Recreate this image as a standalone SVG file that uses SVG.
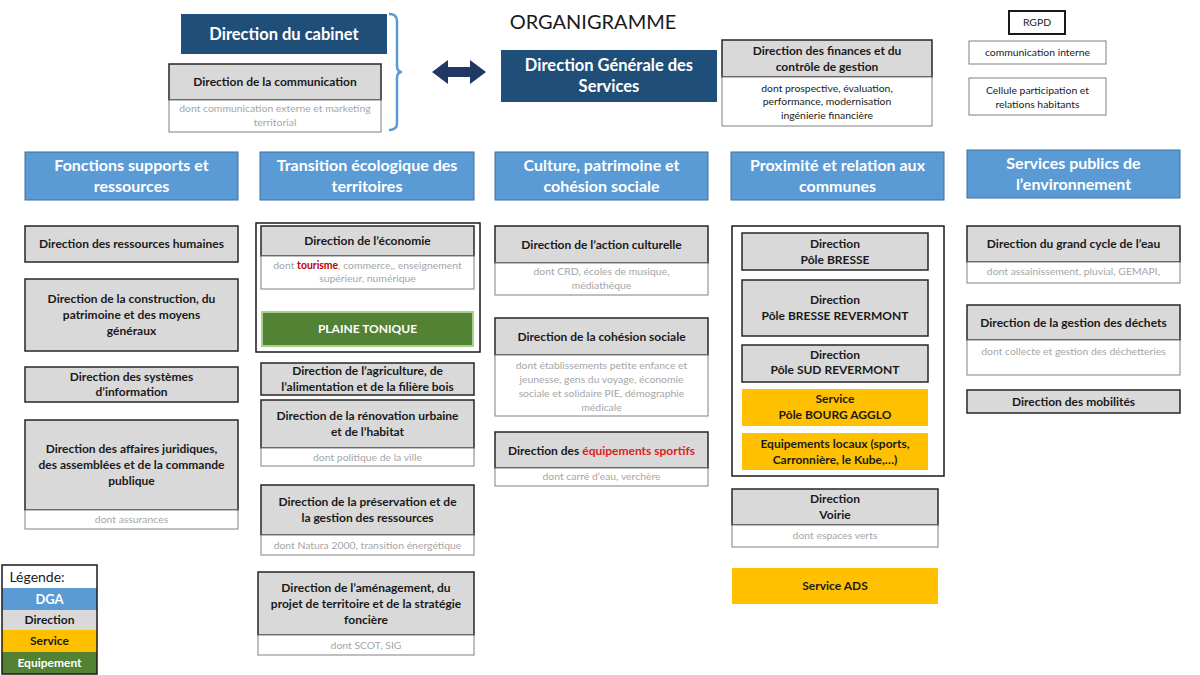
<svg xmlns="http://www.w3.org/2000/svg" width="1200" height="675" viewBox="0 0 1200 675">
<style>
text{font-family:Lato,"Open Sans","Liberation Sans",sans-serif;text-anchor:middle}
.dark{fill:#1F4E79}
.dga{fill:#5B9BD5;stroke:#41719C;stroke-width:1}
.dir{fill:#D9D9D9;stroke:#262626;stroke-width:1.5}
.sub{fill:#fff;stroke:#808080;stroke-width:1}
.svc{fill:#FFC000}
.eq{fill:#548235;stroke:#A9D18E;stroke-width:2}
.box{fill:none;stroke:#1a1a1a;stroke-width:1.5}
.h{font-size:16px;font-weight:bold;fill:#fff}
.t{font-size:12px;font-weight:bold;fill:#1a1a1a}
.s{font-size:10.4px;fill:#A6A6A6}
.n{font-size:10.4px;fill:#1a1a1a}
.red{fill:#C00000;font-weight:bold}
.red2{fill:#E02020}
</style>
<rect width="1200" height="675" fill="#fff"/>

<text x="593" y="29" style="font-size:20px;fill:#1a1a1a">ORGANIGRAMME</text>

<g id="cabinet">
<rect class="dark" x="181" y="14" width="206" height="40"/>
<text class="h" x="284" y="40" style="font-size:16.5px">Direction du cabinet</text>
</g>
<g id="communication">
<rect class="dir" x="169" y="64" width="212" height="36"/>
<text class="t" x="275" y="86">Direction de la communication</text>
<rect class="sub" x="169" y="100" width="212" height="32"/>
<text class="s" x="275" y="112">dont communication externe et marketing</text>
<text class="s" x="275" y="126">territorial</text>
</g>
<g id="dgs">
<rect class="dark" x="501" y="50" width="216" height="52"/>
<text class="h" x="609" y="71" style="font-size:16.5px">Direction Générale des</text>
<text class="h" x="609" y="92" style="font-size:16.5px">Services</text>
</g>
<g id="finances">
<rect class="dir" x="722" y="40" width="210" height="37"/>
<text class="t" x="827" y="55">Direction des finances et du</text>
<text class="t" x="827" y="71">contrôle de gestion</text>
<rect class="sub" x="722" y="77" width="210" height="49"/>
<text class="n" x="827" y="92">dont prospective, évaluation,</text>
<text class="n" x="827" y="105">performance, modernisation</text>
<text class="n" x="827" y="119">ingénierie financière</text>
</g>
<g id="rgpd">
<rect x="1009" y="11" width="56" height="23" fill="#fff" stroke="#1a1a1a" stroke-width="2"/>
<text class="n" x="1037" y="26">RGPD</text>
</g>
<g id="comint">
<rect class="sub" x="969" y="41" width="137" height="23"/>
<text class="n" x="1037.5" y="56">communication interne</text>
</g>
<g id="cellule">
<rect class="sub" x="969" y="78" width="137" height="37"/>
<text class="n" x="1037.5" y="94">Cellule participation et</text>
<text class="n" x="1037.5" y="108">relations habitants</text>
</g>

<g id="connectors">
<path d="M389 14 Q397 14 397 21 L397 66 Q397 72 402 72 Q397 72 397 78 L397 123 Q397 130 389 130" fill="none" stroke="#5B9BD5" stroke-width="2.5"/>
<polygon points="432,72 448,60 448,67 470,67 470,60 486,72 470,84 470,77 448,77 448,84" fill="#1F3864"/>
</g>

<!-- Column 1 -->
<g id="col1-header">
<rect class="dga" x="25" y="152" width="213" height="48"/>
<text class="h" x="131.5" y="171">Fonctions supports et</text>
<text class="h" x="131.5" y="192">ressources</text>
</g>
<g id="rh">
<rect class="dir" x="25" y="226" width="213" height="36"/>
<text class="t" x="131.5" y="248">Direction des ressources humaines</text>
</g>
<g id="construction">
<rect class="dir" x="25" y="279" width="213" height="72"/>
<text class="t" x="131.5" y="303">Direction de la construction, du</text>
<text class="t" x="131.5" y="319">patrimoine et des moyens</text>
<text class="t" x="131.5" y="335">généraux</text>
</g>
<g id="si">
<rect class="dir" x="25" y="367" width="213" height="35"/>
<text class="t" x="131.5" y="381">Direction des systèmes</text>
<text class="t" x="131.5" y="396">d’information</text>
</g>
<g id="juridique">
<rect class="dir" x="25" y="420" width="213" height="90"/>
<text class="t" x="131.5" y="453">Direction des affaires juridiques,</text>
<text class="t" x="131.5" y="469">des assemblées et de la commande</text>
<text class="t" x="131.5" y="485">publique</text>
<rect class="sub" x="25" y="510" width="213" height="19"/>
<text class="s" x="131.5" y="523">dont assurances</text>
</g>

<!-- Column 2 -->
<g id="col2-header">
<rect class="dga" x="260" y="152" width="214" height="48"/>
<text class="h" x="367" y="171">Transition écologique des</text>
<text class="h" x="367" y="192">territoires</text>
</g>
<g id="economie">
<rect class="box" x="256" y="223" width="224" height="129"/>
<rect class="dir" x="261" y="226" width="213" height="30"/>
<text class="t" x="367.5" y="245">Direction de l’économie</text>
<rect class="sub" x="261" y="256" width="213" height="33"/>
<text class="s" x="367.5" y="269">dont <tspan class="red">tourisme</tspan>, commerce,, enseignement</text>
<text class="s" x="367.5" y="282">supérieur, numérique</text>
</g>
<g id="plaine">
<rect class="eq" x="262" y="312" width="211" height="34"/>
<text class="t" x="367.5" y="333" style="fill:#fff">PLAINE TONIQUE</text>
</g>
<g id="agriculture">
<rect class="dir" x="261" y="363" width="213" height="32"/>
<text class="t" x="367.5" y="375">Direction de l’agriculture, de</text>
<text class="t" x="367.5" y="391">l’alimentation et de la filière bois</text>
</g>
<g id="renovation">
<rect class="dir" x="261" y="400" width="213" height="48"/>
<text class="t" x="367.5" y="420">Direction de la rénovation  urbaine</text>
<text class="t" x="367.5" y="436">et de l’habitat</text>
<rect class="sub" x="261" y="448" width="213" height="18"/>
<text class="s" x="367.5" y="461">dont politique de la ville</text>
</g>
<g id="preservation">
<rect class="dir" x="261" y="485" width="213" height="50"/>
<text class="t" x="367.5" y="506">Direction de la préservation et de</text>
<text class="t" x="367.5" y="522">la gestion des ressources</text>
<rect class="sub" x="261" y="535" width="213" height="20"/>
<text class="s" x="367.5" y="549">dont Natura 2000, transition énergétique</text>
</g>
<g id="amenagement">
<rect class="dir" x="258" y="572" width="216" height="63"/>
<text class="t" x="366" y="592">Direction de l’aménagement, du</text>
<text class="t" x="366" y="608">projet de territoire et de la stratégie</text>
<text class="t" x="366" y="624">foncière</text>
<rect class="sub" x="258" y="635" width="216" height="20"/>
<text class="s" x="366" y="649">dont SCOT, SIG</text>
</g>

<!-- Column 3 -->
<g id="col3-header">
<rect class="dga" x="495" y="152" width="213" height="48"/>
<text class="h" x="601.5" y="171">Culture, patrimoine et</text>
<text class="h" x="601.5" y="192">cohésion sociale</text>
</g>
<g id="culture">
<rect class="dir" x="495" y="226" width="213" height="37"/>
<text class="t" x="601.5" y="249">Direction de l’action culturelle</text>
<rect class="sub" x="495" y="263" width="213" height="32"/>
<text class="s" x="601.5" y="275">dont CRD, écoles de musique,</text>
<text class="s" x="601.5" y="289">médiathèque</text>
</g>
<g id="cohesion">
<rect class="dir" x="495" y="318" width="213" height="37"/>
<text class="t" x="601.5" y="341">Direction de la cohésion sociale</text>
<rect class="sub" x="495" y="355" width="213" height="61"/>
<text class="s" x="601.5" y="368.5">dont établissements petite enfance et</text>
<text class="s" x="601.5" y="382.5">jeunesse, gens du voyage, économie</text>
<text class="s" x="601.5" y="396.5">sociale et solidaire PIE, démographie</text>
<text class="s" x="601.5" y="410.5">médicale</text>
</g>
<g id="sports">
<rect class="dir" x="495" y="432" width="213" height="36"/>
<text class="t" x="601.5" y="455">Direction des <tspan class="red2">équipements sportifs</tspan></text>
<rect class="sub" x="495" y="468" width="213" height="18"/>
<text class="s" x="601.5" y="480">dont carré d’eau, verchère</text>
</g>

<!-- Column 4 -->
<g id="col4-header">
<rect class="dga" x="731" y="152" width="213" height="48"/>
<text class="h" x="837.5" y="171">Proximité et relation aux</text>
<text class="h" x="837.5" y="192">communes</text>
</g>
<g id="poles">
<rect class="box" x="732" y="226" width="212" height="250" fill="#fff"/>
</g>
<g id="bresse">
<rect class="dir" x="742" y="233" width="186" height="37"/>
<text class="t" x="835" y="248">Direction</text>
<text class="t" x="835" y="264">Pôle BRESSE</text>
</g>
<g id="bresse-revermont">
<rect class="dir" x="742" y="280" width="186" height="56"/>
<text class="t" x="835" y="304">Direction</text>
<text class="t" x="835" y="320">Pôle BRESSE REVERMONT</text>
</g>
<g id="sud-revermont">
<rect class="dir" x="742" y="345" width="186" height="37"/>
<text class="t" x="835" y="359">Direction</text>
<text class="t" x="835" y="374">Pôle SUD REVERMONT</text>
</g>
<g id="bourg">
<rect class="svc" x="742" y="389" width="186" height="37"/>
<text class="t" x="835" y="403">Service</text>
<text class="t" x="835" y="419">Pôle BOURG AGGLO</text>
</g>
<g id="equip-locaux">
<rect class="svc" x="742" y="433" width="186" height="37"/>
<text class="t" x="835" y="448">Equipements locaux (sports,</text>
<text class="t" x="835" y="464">Carronnière, le Kube,…)</text>
</g>
<g id="voirie">
<rect class="dir" x="732" y="489" width="206" height="36"/>
<text class="t" x="835" y="503">Direction</text>
<text class="t" x="835" y="519">Voirie</text>
<rect class="sub" x="732" y="525" width="206" height="22"/>
<text class="s" x="835" y="539">dont espaces verts</text>
</g>
<g id="ads">
<rect class="svc" x="732" y="568" width="206" height="36"/>
<text class="t" x="835" y="590">Service ADS</text>
</g>

<!-- Column 5 -->
<g id="col5-header">
<rect class="dga" x="967" y="150" width="213" height="48"/>
<text class="h" x="1073.5" y="169">Services publics de</text>
<text class="h" x="1073.5" y="190">l’environnement</text>
</g>
<g id="eau">
<rect class="dir" x="967" y="226" width="213" height="36"/>
<text class="t" x="1073.5" y="248">Direction du grand cycle de l’eau</text>
<rect class="sub" x="967" y="262" width="213" height="21"/>
<text class="s" x="1073.5" y="275">dont assainissement, pluvial, GEMAPI,</text>
</g>
<g id="dechets">
<rect class="dir" x="967" y="305" width="213" height="35"/>
<text class="t" x="1073.5" y="327">Direction de la gestion des déchets</text>
<rect class="sub" x="967" y="340" width="213" height="35"/>
<text class="s" x="1073.5" y="355">dont collecte et gestion des déchetteries</text>
</g>
<g id="mobilites">
<rect class="dir" x="967" y="390" width="213" height="23"/>
<text class="t" x="1073.5" y="406">Direction des mobilités</text>
</g>

<!-- Legend -->
<g id="legend">
<rect x="2" y="565" width="95" height="109" fill="#fff"/>
<rect x="2" y="588" width="95" height="22" fill="#5B9BD5"/>
<rect x="2" y="610" width="95" height="20" fill="#D9D9D9"/>
<rect x="2" y="630" width="95" height="22" fill="#FFC000"/>
<rect x="2" y="652" width="95" height="22" fill="#548235"/>
<rect x="2" y="565" width="95" height="109" fill="none" stroke="#1a1a1a" stroke-width="1.5"/>
<text x="37" y="582" style="font-size:14px;fill:#1a1a1a">Légende:</text>
<text class="t" x="49.5" y="604" style="fill:#fff;font-size:13px">DGA</text>
<text class="t" x="49.5" y="624">Direction</text>
<text class="t" x="49.5" y="645">Service</text>
<text class="t" x="49.5" y="667" style="fill:#fff">Equipement</text>
</g>
</svg>
